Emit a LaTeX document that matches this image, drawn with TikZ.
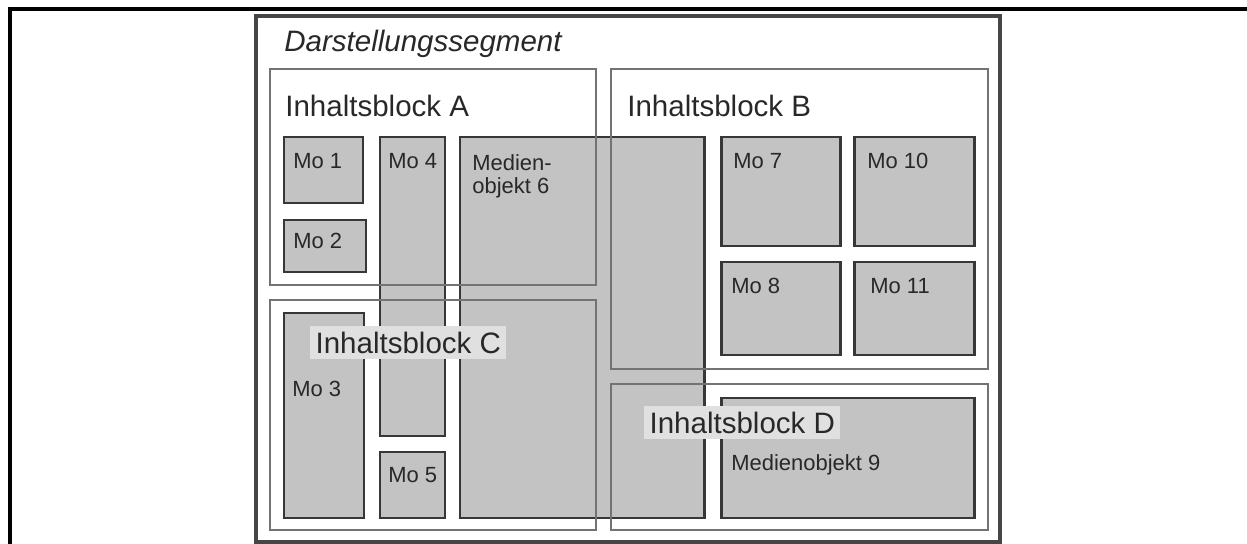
\documentclass[tikz,border=0pt]{standalone}
\usepackage{fontspec}
\setmainfont{Liberation Sans}
\usetikzlibrary{positioning}
\definecolor{mofill}{RGB}{195,195,195}
\definecolor{moline}{RGB}{55,55,55}
\definecolor{blockline}{RGB}{115,115,115}
\definecolor{segline}{RGB}{70,70,70}
\definecolor{labelbg}{RGB}{224,224,224}
\definecolor{textgray}{RGB}{40,40,40}
\tikzset{
  mobox/.style={fill=mofill, draw=moline, line width=1.7pt},
  blockframe/.style={draw=blockline, line width=1.2pt},
  blocklabel/.style={anchor=base west, inner sep=0pt, text=textgray, font=\fontsize{16.8}{19}\selectfont},
  molabel/.style={anchor=base west, inner sep=0pt, text=textgray, font=\fontsize{12.5}{13.2}\selectfont}
}

\begin{document}
\begin{tikzpicture}[x=0.02cm, y=-0.02cm]
  \useasboundingbox (0,0) rectangle (1247,544);
  % outer cell border
  \draw[black, line width=1.8pt] (10,544) -- (10,9) -- (1247,9);
  % segment
  \draw[draw=segline, line width=2pt] (256,16) rectangle (1000,542);
  % media objects
  \foreach \xa/\ya/\xb/\yb in {284/137/363/203, 284/220/366/272, 284/313/364/518,
      380/137/445/436, 380/452/445/518, 460/137/704/518,
      721/137/840/246, 721/262/840/355, 721/398/974/518,
      854/137/974/246, 854/262/974/355}
    \draw[mobox] (\xa,\ya) rectangle (\xb,\yb);
  % content blocks
  \draw[blockframe] (270,69) rectangle (596,285);
  \draw[blockframe] (611,69) rectangle (988,369);
  \draw[blockframe] (270,300) rectangle (596,530);
  \draw[blockframe] (611,384) rectangle (988,530);
  % labels
  \node[blocklabel, font=\fontsize{16.8}{19}\selectfont\itshape] (seg) at (284,52) {Darstellungssegment};
  \node[blocklabel] (lblA) at (285,116) {Inhaltsblock A};
  \node[blocklabel] (lblB) at (627,116) {Inhaltsblock B};
  \node[blocklabel, fill=labelbg, inner sep=3pt] (lblC) at (310,353) {Inhaltsblock C};
  \node[blocklabel, fill=labelbg, inner sep=3pt] (lblD) at (644,433) {Inhaltsblock D};
  \node[molabel] (mo1) at (293,168) {Mo 1};
  \node[molabel] (mo2) at (293,248) {Mo 2};
  \node[molabel] (mo3) at (292,396) {Mo 3};
  \node[molabel] (mo4) at (388,168) {Mo 4};
  \node[molabel] (mo5) at (388,482) {Mo 5};
  \node[molabel, anchor=north west, align=left] (mo6) at (472,154) {Medien-\\objekt 6};
  \node[molabel] (mo7) at (733,168) {Mo 7};
  \node[molabel] (mo8) at (731,293) {Mo 8};
  \node[molabel] (mo9) at (731,470) {Medienobjekt 9};
  \node[molabel] (mo10) at (867,168) {Mo 10};
  \node[molabel] (mo11) at (870,293) {Mo 11};
\end{tikzpicture}
\end{document}
